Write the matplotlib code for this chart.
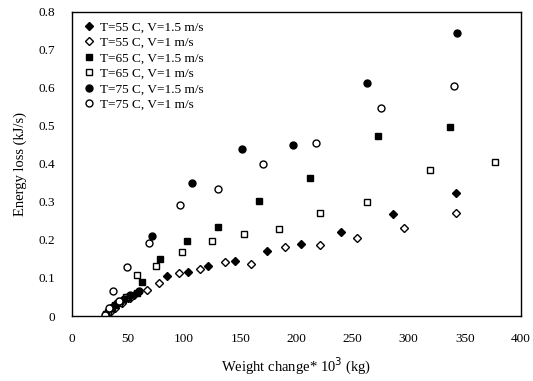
import matplotlib.pyplot as plt
import numpy as np

plt.rcParams['font.family'] = ['Liberation Serif', 'DejaVu Serif']

# T=55 C, V=1.5 m/s
x55a = [30, 33, 36, 40, 45, 50, 55, 84.5, 103, 121, 145, 173.5, 203.6, 240, 286, 342]
y55a = [0.005, 0.015, 0.025, 0.032, 0.04, 0.048, 0.055, 0.106, 0.117, 0.132, 0.146, 0.171, 0.189, 0.221, 0.269, 0.323]
# T=55 C, V=1 m/s
x55b = [31, 34, 38, 45, 52, 66.6, 77.2, 95.4, 114, 136, 159.5, 190, 220.6, 253.6, 295.4, 342]
y55b = [0.003, 0.01, 0.02, 0.033, 0.047, 0.068, 0.088, 0.112, 0.123, 0.141, 0.136, 0.182, 0.187, 0.204, 0.231, 0.272]
# T=65 C, V=1.5 m/s
x65a = [30, 34, 38, 43, 50, 58, 62, 78.5, 102.3, 130, 167, 212, 273, 337]
y65a = [0.005, 0.02, 0.03, 0.04, 0.05, 0.06, 0.09, 0.149, 0.198, 0.235, 0.303, 0.364, 0.474, 0.498]
# T=65 C, V=1 m/s
x65b = [29, 32, 36, 42, 48, 58.3, 74.6, 97.6, 124.7, 153.5, 184, 221, 263, 318.9, 377]
y65b = [0.0, 0.011, 0.02, 0.035, 0.05, 0.108, 0.132, 0.168, 0.198, 0.216, 0.229, 0.272, 0.301, 0.384, 0.404]
# T=75 C, V=1.5 m/s
x75a = [30, 35, 40, 46, 52, 60, 71.7, 106.5, 151.5, 197, 263, 343]
y75a = [0.005, 0.02, 0.035, 0.045, 0.055, 0.065, 0.21, 0.349, 0.44, 0.451, 0.614, 0.745]
# T=75 C, V=1 m/s
x75b = [29, 33, 36.5, 42, 49.3, 68.6, 96, 130, 170.5, 217.6, 275, 340]
y75b = [0.002, 0.02, 0.066, 0.04, 0.128, 0.193, 0.292, 0.335, 0.40, 0.454, 0.546, 0.605]

labels = ['T=55 C, V=1.5 m/s', 'T=55 C, V=1 m/s', 'T=65 C, V=1.5 m/s',
          'T=65 C, V=1 m/s', 'T=75 C, V=1.5 m/s', 'T=75 C, V=1 m/s']

fig = plt.figure(figsize=(5.33, 3.81), dpi=100)
ax = fig.add_axes([0.135, 0.1706, 0.8425, 0.798])

ax.plot(x55a, y55a, 'D', ms=4.5, mfc='black', mec='black', ls='none', label=labels[0])
ax.plot(x55b, y55b, 'D', ms=4.5, mfc='white', mec='black', mew=1, ls='none', label=labels[1])
ax.plot(x65a, y65a, 's', ms=5, mfc='black', mec='black', ls='none', label=labels[2])
ax.plot(x65b, y65b, 's', ms=5, mfc='white', mec='black', mew=1, ls='none', label=labels[3])
ax.plot(x75a, y75a, 'o', ms=5, mfc='black', mec='black', ls='none', label=labels[4])
ax.plot(x75b, y75b, 'o', ms=5, mfc='white', mec='black', mew=1, ls='none', label=labels[5])

ax.set_xlim(0, 400)
ax.set_ylim(0, 0.8)
ax.set_xticks(np.arange(0, 401, 50))
ax.set_yticks(np.arange(0, 0.81, 0.1))
ax.set_yticklabels(['0', '0.1', '0.2', '0.3', '0.4', '0.5', '0.6', '0.7', '0.8'])
ax.tick_params(length=0, labelsize=9.5, pad=12)
for s in ax.spines.values():
    s.set_linewidth(1)

ax.set_xlabel('Weight change* 10$^3$ (kg)', fontsize=10.5, labelpad=8)
ax.set_ylabel('Energy loss (kJ/s)', fontsize=10.5, labelpad=8)

ax.legend(loc='upper left', frameon=False, fontsize=9.5, handletextpad=0.2,
          labelspacing=0.25, borderaxespad=0.3, handlelength=1.2)

fig.savefig('out.png', dpi=100)
